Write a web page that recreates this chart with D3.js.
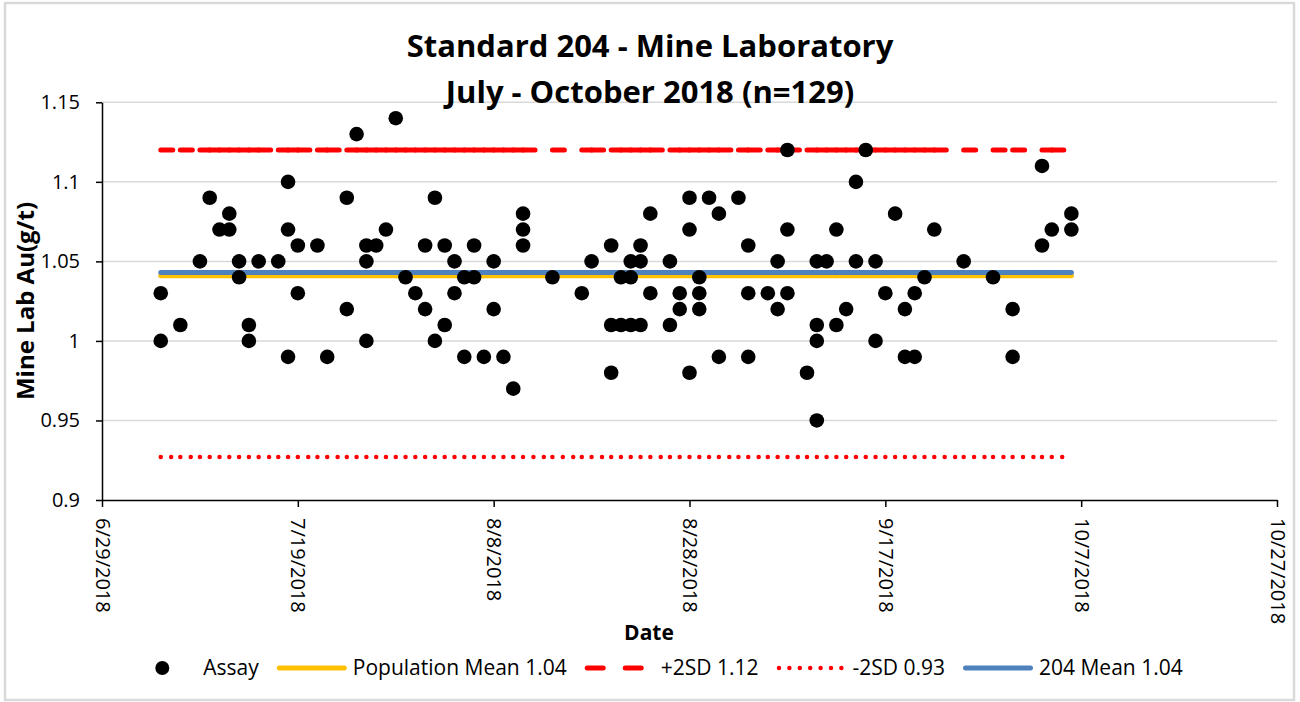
<!doctype html>
<html>
<head>
<meta charset="utf-8">
<script src="https://cdn.jsdelivr.net/npm/d3@7"></script>
<style>
body { margin: 0; background: #fff; }
text { font-family: "Open Sans", sans-serif; fill: #000; }
</style>
</head>
<body>
<svg id="chart" width="1300" height="702"></svg>
<script>
// assay results (date, Au g/t)
var assayDates = [
  "7/5","7/5","7/7","7/9","7/10","7/11","7/12","7/12","7/13","7/13","7/14","7/14",
  "7/15","7/17","7/18","7/18","7/18","7/19","7/19","7/21","7/22","7/24","7/24","7/25",
  "7/26","7/26","7/26","7/27","7/28","7/29","7/30","7/31","8/1","8/1","8/2","8/2",
  "8/3","8/3","8/4","8/4","8/5","8/5","8/6","8/6","8/7","8/8","8/8","8/9","8/10",
  "8/11","8/11","8/11","8/14","8/17","8/18","8/20","8/20","8/20","8/21","8/21",
  "8/22","8/22","8/22","8/23","8/23","8/23","8/24","8/24","8/26","8/26","8/27","8/27",
  "8/28","8/28","8/28","8/29","8/29","8/29","8/30","8/31","8/31","9/2","9/3","9/3","9/3",
  "9/5","9/6","9/6","9/7","9/7","9/7","9/9","9/10","9/10","9/10","9/10","9/11",
  "9/12","9/12","9/13","9/14","9/14","9/15","9/16","9/16","9/17","9/18","9/19","9/19",
  "9/20","9/20","9/21","9/22","9/25","9/28","9/30","9/30","10/3","10/3","10/4","10/6","10/6"
];
var assayValues = [
  1.03,1.00,1.01,1.05,1.09,1.07,1.07,1.08,1.05,1.04,1.01,1.00,
  1.05,1.05,1.10,1.07,0.99,1.06,1.03,1.06,0.99,1.09,1.02,1.13,
  1.06,1.05,1.00,1.06,1.07,1.14,1.04,1.03,1.06,1.02,1.09,1.00,
  1.06,1.01,1.05,1.03,1.04,0.99,1.06,1.04,0.99,1.05,1.02,0.99,0.97,
  1.08,1.07,1.06,1.04,1.03,1.05,1.06,1.01,0.98,1.04,1.01,
  1.05,1.04,1.01,1.06,1.05,1.01,1.08,1.03,1.05,1.01,1.03,1.02,
  1.09,1.07,0.98,1.04,1.03,1.02,1.09,1.08,0.99,1.09,1.06,1.03,0.99,
  1.03,1.05,1.02,1.12,1.07,1.03,0.98,1.05,1.01,1.00,0.95,1.05,
  1.07,1.01,1.02,1.10,1.05,1.12,1.05,1.00,1.03,1.08,1.02,0.99,
  1.03,0.99,1.04,1.07,1.05,1.04,1.02,0.99,1.11,1.06,1.07,1.08,1.07
];

// reference lines
var popMean = 1.041, plus2SD = 1.12, minus2SD = 0.927, mean204 = 1.043;
var legendLabels = ["Assay", "Population Mean 1.04", "+2SD 1.12", "-2SD 0.93", "204 Mean 1.04"];

// axis ticks
var xTickLabels = ["6/29/2018","7/19/2018","8/8/2018","8/28/2018","9/17/2018","10/7/2018","10/27/2018"];
var yTickValues = [0.9, 0.95, 1, 1.05, 1.1, 1.15];

var parse = d3.utcParse("%m/%d/%Y");
var fmt = d3.utcFormat("%-m/%-d/%Y");

var data = assayDates.map(function(d, i) {
  return { date: parse(d + "/2018"), value: assayValues[i] };
});

var svg = d3.select("#chart");

// outer chart border
svg.append("rect")
    .attr("x", 5).attr("y", 3)
    .attr("width", 1289).attr("height", 697)
    .attr("fill", "none")
    .attr("stroke", "#d9d9d9")
    .attr("stroke-width", 2.5);

var x = d3.scaleUtc()
    .domain([parse(xTickLabels[0]), parse(xTickLabels[xTickLabels.length - 1])])
    .range([102, 1277]);
var y = d3.scaleLinear()
    .domain([0.9, 1.15])
    .range([500, 102.3]);

// gridlines
svg.append("g")
  .selectAll("line")
  .data(yTickValues.slice(1))
  .enter().append("line")
    .attr("x1", x.range()[0]).attr("x2", x.range()[1])
    .attr("y1", function(d) { return y(d); })
    .attr("y2", function(d) { return y(d); })
    .attr("stroke", "#d9d9d9")
    .attr("stroke-width", 1.5);

// y axis
var yAxis = svg.append("g")
    .attr("transform", "translate(" + x.range()[0] + ",0)")
    .call(d3.axisLeft(y).tickValues(yTickValues).tickSize(6).tickSizeOuter(0)
      .tickPadding(16).tickFormat(function(d) { return String(d); }));

// x axis
var xAxis = svg.append("g")
    .attr("transform", "translate(0," + y.range()[0] + ")")
    .call(d3.axisBottom(x).tickValues(xTickLabels.map(parse)).tickSize(7).tickSizeOuter(0)
      .tickFormat(fmt));
xAxis.selectAll("text")
    .attr("transform", "rotate(90)")
    .attr("x", 18).attr("y", 0).attr("dy", "0.35em")
    .style("text-anchor", "start");

[xAxis, yAxis].forEach(function(a) {
  a.selectAll("path, line").attr("stroke", "#000").attr("stroke-width", 1.5);
  a.selectAll("text").style("font-size", "20px").style("font-family", "'Open Sans', sans-serif");
});

// reference lines: drawn one segment per sample interval, the dash restarts each segment
var lineDates = Array.from(new Set(data.map(function(d) { return +d.date; }))).sort(d3.ascending);
var segs = d3.pairs(lineDates);

var refLines = [
  { value: popMean,  color: "#ffc000", width: 5,   dash: null },
  { value: mean204,  color: "#4f81bd", width: 5,   dash: null },
  { value: plus2SD,  color: "#ff0000", width: 5,   dash: "12,22" },
  { value: minus2SD, color: "#ff0000", width: 4.5, dash: "0,10.4" }
];

refLines.forEach(function(r) {
  svg.append("g")
    .selectAll("line")
    .data(segs)
    .enter().append("line")
      .attr("x1", function(s) { return x(s[0]); })
      .attr("x2", function(s) { return x(s[1]); })
      .attr("y1", y(r.value))
      .attr("y2", y(r.value))
      .attr("stroke", r.color)
      .attr("stroke-width", r.width)
      .attr("stroke-linecap", "round")
      .attr("stroke-dasharray", r.dash);
});

// assay points
svg.append("g")
  .selectAll("circle")
  .data(data)
  .enter().append("circle")
    .attr("cx", function(d) { return x(d.date); })
    .attr("cy", function(d) { return y(d.value); })
    .attr("r", 7.3)
    .attr("fill", "#000");

// titles
var title = svg.append("text")
    .attr("x", 650)
    .attr("text-anchor", "middle")
    .style("font-size", "31px")
    .style("font-weight", "bold");
title.append("tspan").attr("x", 650).attr("y", 57).text("Standard 204 - Mine Laboratory");
title.append("tspan").attr("x", 650).attr("y", 103).text("July - October 2018 (n=129)");

svg.append("text")
    .attr("x", 649).attr("y", 640)
    .attr("text-anchor", "middle")
    .style("font-size", "21px")
    .style("font-weight", "bold")
    .text("Date");

svg.append("text")
    .attr("transform", "translate(34,301) rotate(-90)")
    .attr("text-anchor", "middle")
    .style("font-size", "24px")
    .style("font-weight", "bold")
    .text("Mine Lab Au(g/t)");

// legend
var legendItems = [
  { label: legendLabels[0], type: "dot" },
  { label: legendLabels[1], type: "line", color: "#ffc000", width: 5, dash: null },
  { label: legendLabels[2], type: "line", color: "#ff0000", width: 5, dash: "16,22" },
  { label: legendLabels[3], type: "line", color: "#ff0000", width: 4.5, dash: "0,10.4" },
  { label: legendLabels[4], type: "line", color: "#4f81bd", width: 5, dash: null }
];
var legendY = 668, slotW = 70, textGap = 6, itemGap = 18;
var legend = svg.append("g");
var cursor = 0;
legendItems.forEach(function(it) {
  var g = legend.append("g").attr("transform", "translate(" + cursor + ",0)");
  if (it.type === "dot") {
    g.append("circle").attr("cx", slotW / 2).attr("cy", legendY).attr("r", 7).attr("fill", "#000");
  } else {
    g.append("line")
      .attr("x1", 2.5).attr("x2", slotW - 2.5)
      .attr("y1", legendY).attr("y2", legendY)
      .attr("stroke", it.color)
      .attr("stroke-width", it.width)
      .attr("stroke-linecap", "round")
      .attr("stroke-dasharray", it.dash);
  }
  var t = g.append("text")
    .attr("x", slotW + textGap)
    .attr("y", legendY)
    .attr("dy", "0.35em")
    .style("font-size", "21px")
    .text(it.label);
  cursor += slotW + textGap + t.node().getComputedTextLength() + itemGap;
});
var legendW = cursor - itemGap;
legend.attr("transform", "translate(" + (655 - legendW / 2) + ",0)");
</script>
</body>
</html>
